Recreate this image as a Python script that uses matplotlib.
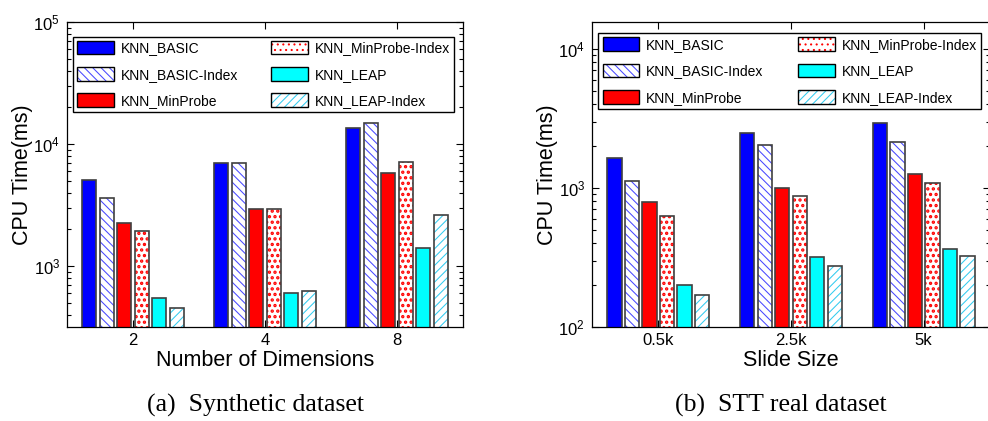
import numpy as np
import matplotlib
matplotlib.use("Agg")
import matplotlib.pyplot as plt
from matplotlib.patches import Patch
from matplotlib.legend_handler import HandlerTuple
from matplotlib.ticker import LogLocator, NullFormatter

plt.rcParams["font.family"] = ["Liberation Sans", "DejaVu Sans"]
plt.rcParams["mathtext.fontset"] = "custom"
plt.rcParams["mathtext.rm"] = "Liberation Sans"
plt.rcParams["hatch.linewidth"] = 0.75

SERIES = ["KNN_BASIC", "KNN_BASIC-Index", "KNN_MinProbe",
          "KNN_MinProbe-Index", "KNN_LEAP", "KNN_LEAP-Index"]

# (a) synthetic dataset, CPU time in ms
DIMS = ["2", "4", "8"]
syn_basic = [5050, 7000, 13600]
syn_basic_idx = [3600, 7000, 15000]
syn_minprobe = [2250, 2950, 5800]
syn_minprobe_idx = [1930, 2950, 7150]
syn_leap = [550, 605, 1410]
syn_leap_idx = [455, 630, 2610]

# (b) STT real dataset, CPU time in ms
SLIDES = ["0.5k", "2.5k", "5k"]
stt_basic = [1630, 2500, 2950]
stt_basic_idx = [1115, 2030, 2140]
stt_minprobe = [795, 990, 1250]
stt_minprobe_idx = [625, 875, 1085]
stt_leap = [200, 318, 363]
stt_leap_idx = [169, 274, 324]

# face colour, hatch, hatch colour
STYLES = [
    ("#0000ff", None, None),
    ("white", "\\\\\\\\", "#4848ff"),
    ("#ff0000", None, None),
    ("white", "...", "#ff0000"),
    ("#00ffff", None, None),
    ("white", "////", "#33ccf0"),
]
DOT_LW = 1.6
EDGE = "#404040"
PITCH = 0.1323
WIDTH = 0.108


def hatched_patch(patch, hatch):
    # the dotted pattern needs a thicker hatch stroke than the lines
    if hatch == "..." and hasattr(patch, "set_hatch_linewidth"):
        patch.set_hatch_linewidth(DOT_LW)
    return patch


def draw_panel(ax, labels, series, ylim, xlabel, legend_box):
    x = np.arange(1, len(labels) + 1)
    handles = []
    for i, (vals, (fc, hatch, hc)) in enumerate(zip(series, STYLES)):
        pos = x + (i - 2.5) * PITCH
        if hatch:
            lw = DOT_LW if hatch == "..." else plt.rcParams["hatch.linewidth"]
            with plt.rc_context({"hatch.linewidth": lw}):
                bars = ax.bar(pos, vals, WIDTH, bottom=1, color=fc, edgecolor=hc,
                              linewidth=0, hatch=hatch, zorder=1)
                for b in bars:
                    hatched_patch(b, hatch)
                proxy = hatched_patch(Patch(facecolor=fc, edgecolor=hc, hatch=hatch,
                                            linewidth=0), hatch)
            handles.append((proxy, Patch(fill=False, edgecolor="black", linewidth=1)))
        else:
            ax.bar(pos, vals, WIDTH, bottom=1, color=fc, linewidth=0, zorder=1)
            handles.append(Patch(facecolor=fc, edgecolor="black", linewidth=1))
        ax.bar(pos, vals, WIDTH, bottom=1, fill=False, edgecolor=EDGE,
               linewidth=1.2, zorder=1.1)

    ax.set_yscale("log")
    ax.set_ylim(*ylim)
    ax.set_xlim(0.5, len(labels) + 0.5)
    ax.set_xticks(x)
    ax.set_xticklabels(labels)
    ax.yaxis.set_major_locator(LogLocator(base=10))
    ax.yaxis.set_minor_locator(LogLocator(base=10, subs=np.arange(2, 10)))
    ax.yaxis.set_minor_formatter(NullFormatter())
    ax.tick_params(which="both", direction="in", top=True, right=True,
                   labelsize=12, width=0.8)
    ax.tick_params(which="major", length=5)
    ax.tick_params(which="minor", length=3)
    ax.tick_params(axis="y", pad=5)
    ax.tick_params(axis="x", pad=4)
    for s in ax.spines.values():
        s.set_linewidth(0.9)
    ax.set_xlabel(xlabel, fontsize=15.5, labelpad=2)
    ax.set_ylabel("CPU Time(ms)", fontsize=15.5, labelpad=0.5)

    leg = ax.legend(handles, SERIES, ncol=2, loc="upper left",
                    bbox_to_anchor=legend_box, mode="expand", fontsize=10,
                    handlelength=2.65, handleheight=1.13, handletextpad=0.5,
                    labelspacing=0.85, borderpad=0.3, borderaxespad=0,
                    fancybox=False, framealpha=1, edgecolor="black",
                    handler_map={tuple: HandlerTuple(ndivide=1, pad=0)})
    leg.get_frame().set_linewidth(1.0)


fig = plt.figure(figsize=(9.88, 4.21), dpi=100)
ax1 = fig.add_axes([67 / 988, 94 / 421, 396 / 988, 305 / 421])
ax2 = fig.add_axes([592 / 988, 94 / 421, 398 / 988, 305 / 421])

draw_panel(ax1, DIMS,
           [syn_basic, syn_basic_idx, syn_minprobe, syn_minprobe_idx, syn_leap, syn_leap_idx],
           (318, 1e5), "Number of Dimensions", (0.0144, 0.705, 0.963, 0.247))
draw_panel(ax2, SLIDES,
           [stt_basic, stt_basic_idx, stt_minprobe, stt_minprobe_idx, stt_leap, stt_leap_idx],
           (100, 15600), "Slide Size", (0.016, 0.715, 0.962, 0.248))

fig.text(255 / 988, 1 - 405 / 421, "(a)  Synthetic dataset", ha="center", va="center",
         family="Liberation Serif", fontsize=18.5)
fig.text(781 / 988, 1 - 405 / 421, "(b)  STT real dataset", ha="center", va="center",
         family="Liberation Serif", fontsize=18.5)

fig.savefig("out.png", dpi=100, facecolor="white")
